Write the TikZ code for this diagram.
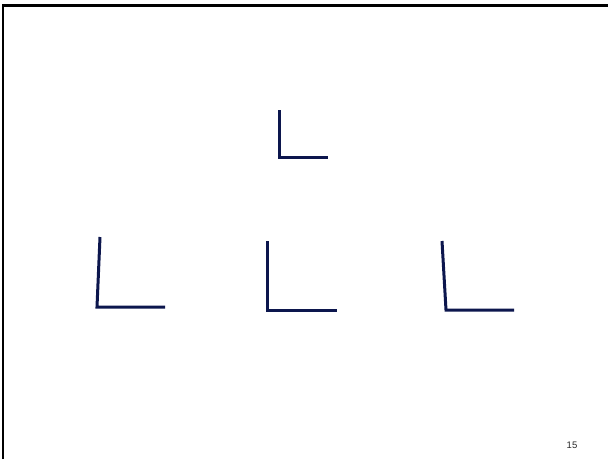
\documentclass[tikz,border=0pt]{standalone}
\usepackage{fontspec}
\setmainfont{Liberation Sans}
\definecolor{navy}{RGB}{12,22,77}
\begin{document}
\begin{tikzpicture}[x=1pt,y=-1pt,
  ell/.style={draw=navy,line width=3pt,line join=miter},
  frame/.style={draw=black,line width=2.5pt}]
\useasboundingbox (0,0) rectangle (608,459);
\fill[white] (0,0) rectangle (608,459);
\draw[frame] (3.2,459) -- (3.2,5.5) -- (608,5.5);
% top L
\coordinate (a1) at (279,110); \coordinate (a2) at (279,157); \coordinate (a3) at (328,157);
\draw[ell] (a1) -- (a2) -- (a3);
% left L
\coordinate (b1) at (100,237); \coordinate (b2) at (97,307); \coordinate (b3) at (165,307);
\draw[ell] (b1) -- (b2) -- (b3);
% middle L
\coordinate (c1) at (267,241); \coordinate (c2) at (267,310); \coordinate (c3) at (337,310);
\draw[ell] (c1) -- (c2) -- (c3);
% right L
\coordinate (d1) at (442,241); \coordinate (d2) at (446,310); \coordinate (d3) at (514,310);
\draw[ell] (d1) -- (d2) -- (d3);
\node[inner sep=0pt,font=\fontsize{9.5}{9.5}\selectfont,text=black!85] (pg) at (572,445) {15};
\end{tikzpicture}
\end{document}
